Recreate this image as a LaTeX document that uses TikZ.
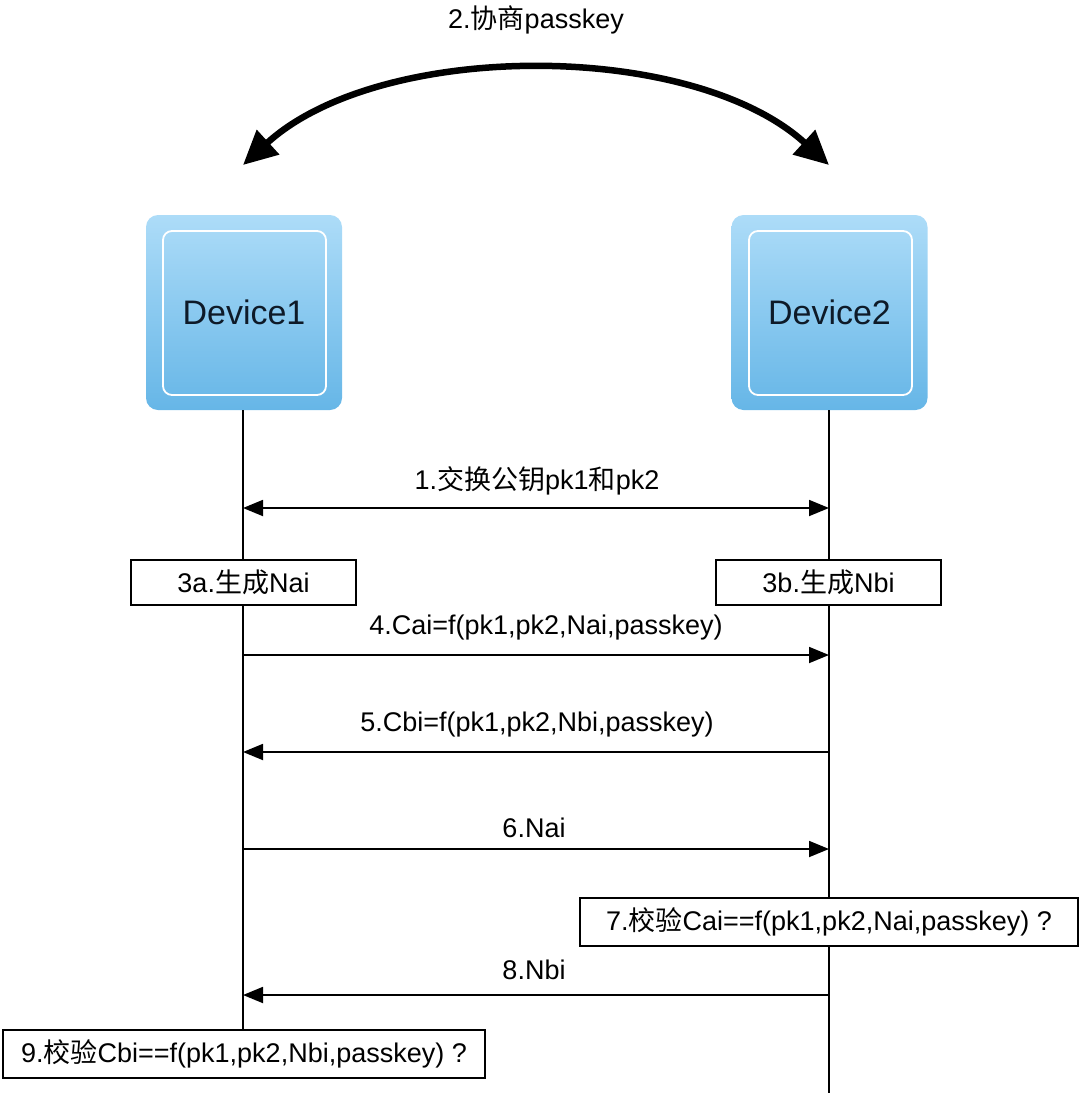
\documentclass[tikz,border=0pt]{standalone}
\usepackage{fontspec}
\setmainfont{Liberation Sans}
\newfontfamily\cjk{Noto Sans CJK SC}
\usetikzlibrary{arrows.meta}
\definecolor{devtop}{HTML}{ADDCF8}
\definecolor{devbot}{HTML}{66B6E7}
\definecolor{devtext}{HTML}{0E1A28}
\begin{document}
\begin{tikzpicture}[x=1pt,y=-1pt,
  lbl/.style={font=\fontsize{27}{32}\selectfont, inner sep=0pt},
  device/.style={minimum width=196pt, minimum height=195pt, rounded corners=12pt,
    top color=devtop, bottom color=devbot, draw=none, inner sep=0pt},
  devtxt/.style={font=\fontsize{34}{40}\selectfont, text=devtext, inner sep=0pt},
  inner/.style={white, line width=1.8pt, rounded corners=9pt},
  stepbox/.style={draw=black, line width=2pt, fill=white, inner sep=0pt,
    font=\fontsize{27}{32}\selectfont},
  lifeline/.style={line width=1.6pt},
  msg/.style={line width=1.8pt, -{Triangle[length=20pt,width=16pt]}},
  msgboth/.style={line width=1.8pt, {Triangle[length=20pt,width=16pt]}-{Triangle[length=20pt,width=16pt]}},
  bigarc/.style={line width=6.5pt, {Triangle[length=34pt,width=32pt]}-{Triangle[length=34pt,width=32pt]}}
]
\useasboundingbox (0,0) rectangle (1080,1095);

% devices
\node[device] (d1) at (244,312.5) {};
\node[device] (d2) at (829.5,312.5) {};
\draw[inner] (163,231) rectangle (326,395);
\draw[inner] (749,231) rectangle (912,395);
\node[devtxt] (t1) at (d1.center) {Device1};
\node[devtxt] (t2) at (d2.center) {Device2};

% lifeline end points
\coordinate (s1) at (243,410);
\coordinate (s2) at (829,410);
\coordinate (e1) at (243,1030);
\coordinate (e2) at (829,1093);
\draw[lifeline] (s1) -- (e1);
\draw[lifeline] (s2) -- (e2);

% arc
\coordinate (a1) at (243,165);
\coordinate (a2) at (829,165);
\draw[bigarc] (a1) .. controls (380,40) and (692,40) .. (a2);
\node[lbl] (l2) at (536,20) {2.{\cjk 协商}passkey};

% message 1
\coordinate (m1a) at (243,508);
\coordinate (m1b) at (829,508);
\draw[msgboth] (m1a) -- (m1b);
\node[lbl] (l1) at (537,481) {1.{\cjk 交换公钥}pk1{\cjk 和}pk2};

% step boxes 3a/3b
\node[stepbox, minimum width=225pt, minimum height=45pt] (b3a) at (243.5,582.5) {3a.{\cjk 生成}Nai};
\node[stepbox, minimum width=225pt, minimum height=45pt] (b3b) at (828.5,582.5) {3b.{\cjk 生成}Nbi};

% message 4
\coordinate (m4a) at (243,655);
\coordinate (m4b) at (829,655);
\draw[msg] (m4a) -- (m4b);
\node[lbl] (l4) at (546,628) {4.Cai=f(pk1,pk2,Nai,passkey)};

% message 5
\coordinate (m5a) at (829,752);
\coordinate (m5b) at (243,752);
\draw[msg] (m5a) -- (m5b);
\node[lbl] (l5) at (537,725) {5.Cbi=f(pk1,pk2,Nbi,passkey)};

% message 6
\coordinate (m6a) at (243,849);
\coordinate (m6b) at (829,849);
\draw[msg] (m6a) -- (m6b);
\node[lbl] (l6) at (534,828) {6.Nai};

% box 7
\node[stepbox, minimum width=498pt, minimum height=48pt] (b7) at (829,922) {7.{\cjk 校验}Cai==f(pk1,pk2,Nai,passkey) ?};

% message 8
\coordinate (m8a) at (829,995);
\coordinate (m8b) at (243,995);
\draw[msg] (m8a) -- (m8b);
\node[lbl] (l8) at (534,970) {8.Nbi};

% box 9
\node[stepbox, minimum width=482pt, minimum height=48pt] (b9) at (244,1054) {9.{\cjk 校验}Cbi==f(pk1,pk2,Nbi,passkey) ?};
\end{tikzpicture}
\end{document}
